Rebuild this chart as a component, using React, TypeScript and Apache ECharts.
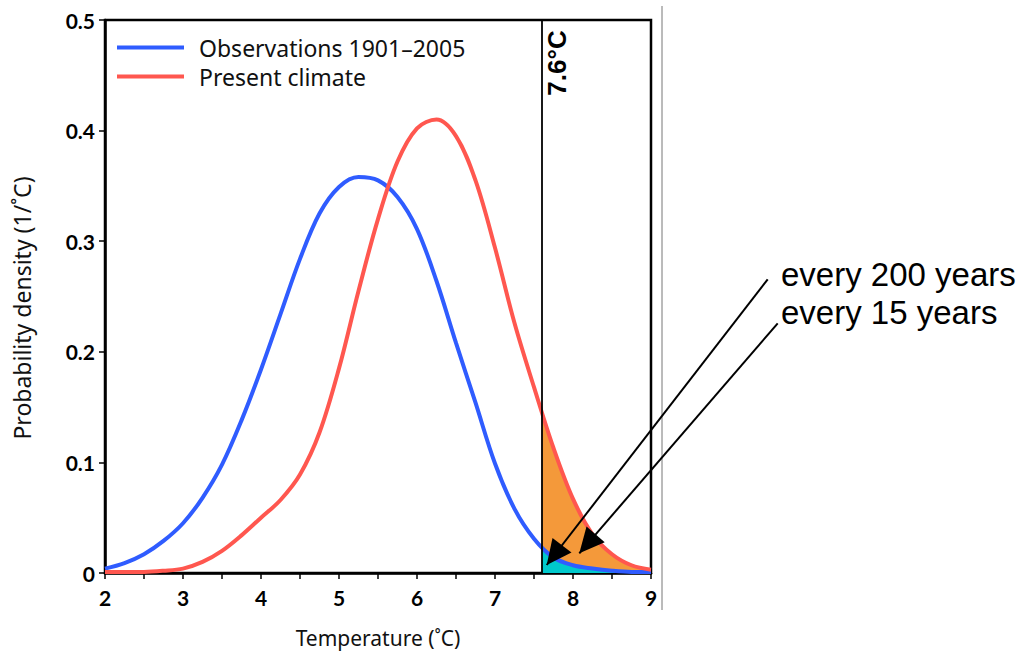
import React, { useEffect, useRef } from "react";
import * as echarts from "echarts";

// Temperature grid (°C)
const temps = [2, 2.25, 2.5, 2.75, 3, 3.25, 3.5, 3.75, 4, 4.25, 4.5, 4.75, 5, 5.25, 5.5, 5.75, 6, 6.25, 6.5, 6.75, 7, 7.25, 7.5, 7.75, 8, 8.25, 8.5, 8.75, 9];
// Observations 1901–2005 (blue)
const observations = [0.004, 0.009, 0.017, 0.029, 0.045, 0.068, 0.098, 0.138, 0.184, 0.234, 0.284, 0.325, 0.349, 0.358, 0.355, 0.340, 0.311, 0.264, 0.208, 0.154, 0.099, 0.058, 0.031, 0.014, 0.007, 0.004, 0.002, 0.001, 0.001];
// Present climate (red)
const present = [0.001, 0.001, 0.001, 0.002, 0.004, 0.010, 0.020, 0.034, 0.050, 0.066, 0.089, 0.127, 0.185, 0.255, 0.320, 0.372, 0.402, 0.410, 0.395, 0.355, 0.294, 0.226, 0.168, 0.113, 0.067, 0.035, 0.017, 0.007, 0.003];
// Exceedance tails above the 7.6 °C threshold
const threshold = 7.6;
const tailTemps = [7.6, 7.75, 8, 8.25, 8.5, 8.75, 9];
const presentTail = [0.147, 0.113, 0.067, 0.035, 0.017, 0.007, 0.003];
const observationsTail = [0.024, 0.014, 0.007, 0.004, 0.002, 0.001, 0.001];
const xTicks = [2, 3, 4, 5, 6, 7, 8, 9];
const yTicks = [0, 0.1, 0.2, 0.3, 0.4, 0.5];

const BLUE = "#2F5CFF";
const RED = "#FF574F";
const ORANGE = "#F4993A";
const CYAN = "#00C9CC";

function arrowHead(tip: number[], from: number[], L: number, W: number) {
  const dx = tip[0] - from[0];
  const dy = tip[1] - from[1];
  const len = Math.sqrt(dx * dx + dy * dy);
  const ux = dx / len, uy = dy / len;
  const bx = tip[0] - ux * L, by = tip[1] - uy * L;
  const nx = -uy, ny = ux;
  return [tip, [bx + nx * W, by + ny * W], [bx - nx * W, by - ny * W]];
}

export default function App() {
  const ref = useRef<HTMLDivElement>(null);
  useEffect(() => {
    if (!ref.current) return;
    const chart = echarts.init(ref.current, undefined, { renderer: "svg" });
    const obsData = temps.map((t, i) => [t, observations[i]]);
    const presData = temps.map((t, i) => [t, present[i]]);
    const presTail = tailTemps.map((t, i) => [t, presentTail[i]]);
    const obsTail = tailTemps.map((t, i) => [t, observationsTail[i]]);

    const a1s = [767.7, 279.3], a1t = [546.7, 565];
    const a2s = [777.7, 323.3], a2t = [579.3, 553.3];

    chart.setOption({
      animation: false,
      grid: {
        left: 105, top: 20, width: 546, height: 553,
        show: true, borderColor: "#000", borderWidth: 2.5, backgroundColor: "transparent",
      },
      legend: {
        left: 112, top: 31, orient: "vertical", itemGap: 6,
        itemWidth: 67, itemHeight: 4, icon: "rect",
        data: ["Observations 1901–2005", "Present climate"],
        textStyle: { fontFamily: "Noto Sans", fontSize: 23, color: "#111", padding: [0, 0, 0, 10] },
      },
      xAxis: {
        type: "value", min: 2, max: 9, interval: 0.5,
        name: "Temperature (˚C)", nameLocation: "middle", nameGap: 54,
        nameTextStyle: { fontFamily: "Noto Sans", fontSize: 21, color: "#111" },
        axisLine: { lineStyle: { color: "#000", width: 2.5 } },
        axisTick: { inside: false, length: 6, lineStyle: { color: "#000", width: 1.5 } },
        axisLabel: {
          margin: 14, fontFamily: "Lato", fontWeight: "bold", fontSize: 21, color: "#000",
          formatter: (v: number) => (xTicks.includes(v) ? String(v) : ""),
        },
        splitLine: { show: false },
      },
      yAxis: {
        type: "value", min: 0, max: 0.5, interval: 0.1,
        axisLine: { lineStyle: { color: "#000", width: 2.5 } },
        axisTick: { inside: false, length: 6, lineStyle: { color: "#000", width: 1.5 } },
        axisLabel: {
          margin: 10, fontFamily: "Lato", fontWeight: "bold", fontSize: 21, color: "#000",
          formatter: (v: number) => {
            const t = yTicks.find((y) => Math.abs(y - v) < 1e-9);
            return t === 0 ? "0" : (t !== undefined ? t.toFixed(1) : "");
          },
        },
        splitLine: { show: false },
      },
      series: [
        {
          name: "present-tail", type: "line", data: presTail, smooth: 0.35, symbol: "none",
          lineStyle: { width: 0 }, areaStyle: { color: ORANGE, opacity: 1 }, silent: true, z: 1,
          markLine: {
            symbol: "none", silent: true, label: { show: false },
            lineStyle: { color: "#000", width: 1.8, type: "solid" },
            data: [{ xAxis: threshold }],
          },
        },
        {
          name: "obs-tail", type: "line", data: obsTail, smooth: 0.35, symbol: "none",
          lineStyle: { width: 0 }, areaStyle: { color: CYAN, opacity: 1 }, silent: true, z: 2,
        },
        {
          name: "Observations 1901–2005", type: "line", data: obsData, smooth: 0.35, symbol: "none",
          color: BLUE, lineStyle: { color: BLUE, width: 4 }, z: 3,
        },
        {
          name: "Present climate", type: "line", data: presData, smooth: 0.35, symbol: "none",
          color: RED, lineStyle: { color: RED, width: 4 }, z: 4,
        },
      ],
      graphic: [
        {
          type: "text", x: 22, y: 308, rotation: Math.PI / 2,
          style: { text: "Probability density (1/˚C)", fontFamily: "Noto Sans", fontSize: 23, fill: "#111", align: "center", verticalAlign: "middle" },
        },
        { type: "line", shape: { x1: 662, y1: 6, x2: 662, y2: 610 }, style: { stroke: "#777", lineWidth: 1 } },
        {
          type: "text", x: 557, y: 63, rotation: Math.PI / 2,
          style: { text: "7.6°C", fontFamily: "Liberation Sans", fontWeight: "bold", fontSize: 26, fill: "#000", align: "center", verticalAlign: "middle" },
        },
        { type: "line", shape: { x1: a1s[0], y1: a1s[1], x2: a1t[0], y2: a1t[1] }, style: { stroke: "#000", lineWidth: 2 }, z: 100 },
        { type: "line", shape: { x1: a2s[0], y1: a2s[1], x2: a2t[0], y2: a2t[1] }, style: { stroke: "#000", lineWidth: 2 }, z: 100 },
        { type: "polygon", shape: { points: arrowHead(a1t, a1s, 25, 12) }, style: { fill: "#000" }, z: 100 },
        { type: "polygon", shape: { points: arrowHead(a2t, a2s, 25, 12) }, style: { fill: "#000" }, z: 100 },
        {
          type: "text", x: 781, y: 274,
          style: { text: "every 200 years", fontFamily: "Liberation Sans", fontSize: 33, fill: "#000", verticalAlign: "middle" },
        },
        {
          type: "text", x: 781, y: 312,
          style: { text: "every 15 years", fontFamily: "Liberation Sans", fontSize: 33, fill: "#000", verticalAlign: "middle" },
        },
      ],
    });
    return () => chart.dispose();
  }, []);
  return <div ref={ref} style={{ position: "absolute", left: 0, top: 0, width: 1023, height: 658, background: "#fff" }} />;
}
